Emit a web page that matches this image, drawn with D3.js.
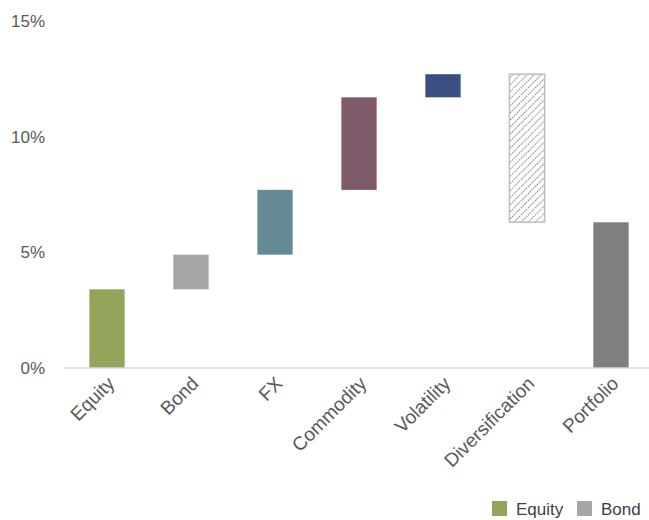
<!DOCTYPE html>
<html lang="en">
<head>
<meta charset="UTF-8">
<title>Risk contribution waterfall</title>
<style>
  body { margin: 0; background: #fff; }
  svg { display: block; font-family: "Liberation Sans", Arial, sans-serif; }
  .tick-label { font-size: 17px; fill: #595959; }
  .cat-label { font-size: 19px; fill: #595959; }
  .legend-label { font-size: 17px; fill: #404040; }
</style>
</head>
<body>
<div id="chart"></div>
<script src="https://d3js.org/d3.v7.min.js"></script>
<script>
// waterfall data: each bar spans from low to high (percent)
const categories = ["Equity", "Bond", "FX", "Commodity", "Volatility", "Diversification", "Portfolio"];
const lows  = [0, 3.4, 4.9, 7.7, 11.7, 6.3, 0];
const highs = [3.4, 4.9, 7.7, 11.7, 12.7, 12.7, 6.3];
const colors = ["#93a55b", "#a6a6a6", "#648a94", "#7e5a6b", "#3b4e82", "url(#hatch)", "#7f7f7f"];
const yTicks = [0, 5, 10, 15];
const legendItems = ["Equity", "Bond"];
const legendColors = ["#93a55b", "#a6a6a6"];

const width = 649, height = 520;
const svg = d3.select("#chart").append("svg")
    .attr("width", width)
    .attr("height", height);

// hatch pattern for the diversification bar
const pat = svg.append("defs").append("pattern")
    .attr("id", "hatch")
    .attr("patternUnits", "userSpaceOnUse")
    .attr("width", 5)
    .attr("height", 5)
    .attr("patternTransform", "rotate(45)");
pat.append("rect").attr("width", 5).attr("height", 5).attr("fill", "#fff");
pat.append("line")
    .attr("x1", 0).attr("y1", 0).attr("x2", 0).attr("y2", 5)
    .attr("stroke", "#7f7f7f")
    .attr("stroke-width", 2)
    .attr("stroke-dasharray", "1.5,1");

const x = d3.scaleBand()
    .domain(categories)
    .range([65, 653])
    .paddingInner(0.58)
    .paddingOuter(0.29);

const y = d3.scaleLinear()
    .domain([0, 15])
    .range([368, 21]);

// y tick labels (no axis line, no gridlines)
svg.append("g")
    .selectAll("text")
    .data(yTicks)
    .enter().append("text")
    .attr("class", "tick-label")
    .attr("x", 45)
    .attr("y", d => y(d))
    .attr("dy", "0.35em")
    .attr("text-anchor", "end")
    .text(d => d + "%");

// bars
svg.append("g")
    .selectAll("rect")
    .data(categories)
    .enter().append("rect")
    .attr("x", d => x(d))
    .attr("width", x.bandwidth())
    .attr("y", (d, i) => y(highs[i]))
    .attr("height", (d, i) => y(lows[i]) - y(highs[i]))
    .attr("fill", (d, i) => colors[i])
    .attr("stroke", (d, i) => d === "Diversification" ? "#bfbfbf" : "none")
    .attr("stroke-width", 1.5);

// baseline
svg.append("line")
    .attr("x1", 64).attr("x2", 652)
    .attr("y1", y(0)).attr("y2", y(0))
    .attr("stroke", "#d9d9d9")
    .attr("stroke-width", 1.5);

// rotated category labels
svg.append("g")
    .selectAll("text")
    .data(categories)
    .enter().append("text")
    .attr("class", "cat-label")
    .attr("text-anchor", "end")
    .attr("transform", d => `translate(${x(d) + x.bandwidth() / 2 + 4},${y(0) + 12}) rotate(-45)`)
    .attr("dy", "0.35em")
    .text(d => d);

// legend
const legend = svg.append("g")
    .selectAll("g")
    .data(legendItems)
    .enter().append("g")
    .attr("transform", (d, i) => `translate(${492 + i * 85},501)`);

legend.append("rect")
    .attr("width", 15)
    .attr("height", 15)
    .attr("fill", (d, i) => legendColors[i]);

legend.append("text")
    .attr("class", "legend-label")
    .attr("x", 24)
    .attr("y", 8)
    .attr("dy", "0.35em")
    .text(d => d);
</script>
</body>
</html>
